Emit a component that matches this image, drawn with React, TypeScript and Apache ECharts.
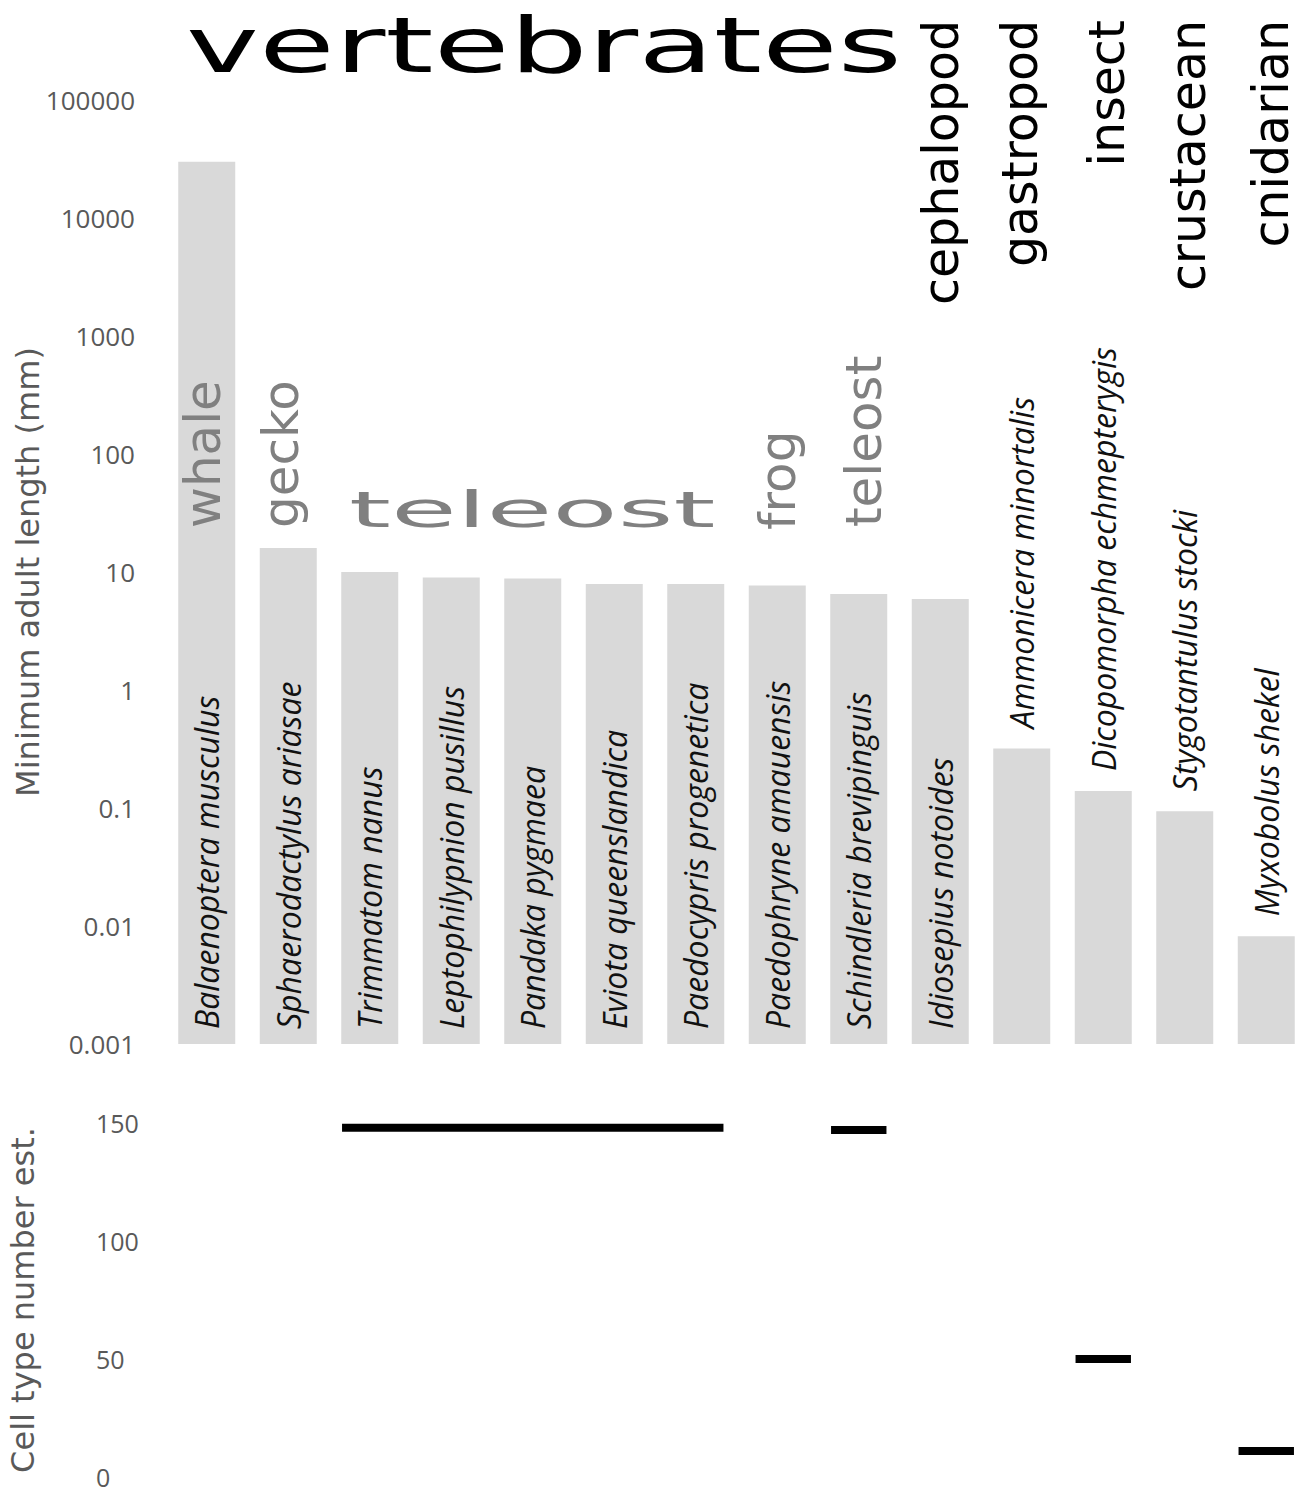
import React, { useEffect, useRef } from "react";
import * as echarts from "echarts";

const species = [
  "Balaenoptera musculus",
  "Sphaerodactylus ariasae",
  "Trimmatom nanus",
  "Leptophilypnion pusillus",
  "Pandaka pygmaea",
  "Eviota queenslandica",
  "Paedocypris progenetica",
  "Paedophryne amauensis",
  "Schindleria brevipinguis",
  "Idiosepius notoides",
  "Ammonicera minortalis",
  "Dicopomorpha echmepterygis",
  "Stygotantulus stocki",
  "Myxobolus shekel",
];
const minAdultLengthMm = [30000, 16, 10, 9, 8.8, 7.9, 7.9, 7.7, 6.5, 5.9, 0.32, 0.139, 0.094, 0.0082];
const labelAboveBar = [false, false, false, false, false, false, false, false, false, false, true, true, true, true];
const lengthTickLabels = ["0.001", "0.01", "0.1", "1", "10", "100", "1000", "10000", "100000"];
const cellTypeTickLabels = ["0", "50", "100", "150"];
const cellTypeFromIdx = [2, 8, 11, 13];
const cellTypeToIdx = [6, 8, 11, 13];
const cellTypeCount = [148, 147, 50, 11];
const grayGroupLabels = ["whale", "gecko", "frog", "teleost"];
const blackGroupLabels = ["cephalopod", "gastropod", "insect", "crustacean", "cnidarian"];

const GRID_LEFT = 166;
const GRID_WIDTH = 1141;

export default function App() {
  const ref = useRef<HTMLDivElement>(null);
  useEffect(() => {
    if (!ref.current) return;
    const chart = echarts.init(ref.current, null, { renderer: "svg" });

    const baseLabel = {
      show: true,
      rotate: 90,
      align: "left",
      verticalAlign: "middle",
      formatter: "{b}",
      fontSize: 32,
      fontStyle: "italic",
      fontFamily: "'Open Sans', 'DejaVu Sans', sans-serif",
      color: "#111",
    };
    const insideLabel = { ...baseLabel, position: "insideBottom", distance: 15 };
    const aboveLabel = { ...baseLabel, position: "top", distance: 20 };

    const grayPos = [
      [203, 528],
      [281, 528],
      [777.5, 530],
      [863.5, 527],
    ];
    const blackPos = [
      [941, 20],
      [1020, 20],
      [1107, 20],
      [1188, 20],
      [1271, 20],
    ];

    const graphic: any[] = [
      {
        type: "text",
        x: 186,
        y: 45,
        z: 100,
        scaleX: 1.6,
        style: {
          text: "vertebrates",
          fill: "#000",
          fontSize: 77,
          fontFamily: "'DejaVu Sans', sans-serif",
          align: "left",
          textAlign: "left",
          verticalAlign: "middle",
          textVerticalAlign: "middle",
        },
      },
      {
        type: "text",
        x: 349,
        y: 509.5,
        z: 100,
        scaleX: 2.14,
        style: {
          text: "teleost",
          fill: "#808080",
          fontSize: 50,
          fontFamily: "'DejaVu Sans', sans-serif",
          align: "left",
          textAlign: "left",
          verticalAlign: "middle",
          textVerticalAlign: "middle",
        },
      },
      ...grayGroupLabels.map((t, i) => ({
        type: "text",
        x: grayPos[i][0],
        y: grayPos[i][1],
        z: 100,
        rotation: Math.PI / 2,
        style: {
          text: t,
          fill: "#808080",
          fontSize: 50,
          fontFamily: "'DejaVu Sans', sans-serif",
          align: "left",
          textAlign: "left",
          verticalAlign: "middle",
          textVerticalAlign: "middle",
        },
      })),
      ...blackGroupLabels.map((t, i) => ({
        type: "text",
        x: blackPos[i][0],
        y: blackPos[i][1],
        z: 100,
        rotation: Math.PI / 2,
        style: {
          text: t,
          fill: "#000",
          fontSize: 49,
          fontFamily: "'DejaVu Sans', sans-serif",
          align: "right",
          textAlign: "right",
          verticalAlign: "middle",
          textVerticalAlign: "middle",
        },
      })),
    ];

    const option: any = {
      animation: false,
      backgroundColor: "#fff",
      grid: [
        { left: GRID_LEFT, width: GRID_WIDTH, top: 100, height: 944, outerBoundsMode: "none", containLabel: false },
        { left: GRID_LEFT, width: GRID_WIDTH, top: 1123, height: 354, outerBoundsMode: "none", containLabel: false },
      ],
      xAxis: [
        {
          type: "category",
          gridIndex: 0,
          data: species,
          axisLine: { show: false },
          axisTick: { show: false },
          axisLabel: { show: false },
        },
        {
          type: "category",
          gridIndex: 1,
          data: species,
          axisLine: { show: false },
          axisTick: { show: false },
          axisLabel: { show: false },
        },
      ],
      yAxis: [
        {
          type: "log",
          gridIndex: 0,
          logBase: 10,
          min: 0.001,
          max: 100000,
          startValue: 0.001,
          name: "Minimum adult length (mm)",
          nameLocation: "middle",
          nameRotate: 90,
          nameGap: 122,
          nameMoveOverlap: false,
          nameTextStyle: { fontSize: 32, color: "#595959", fontFamily: "'DejaVu Sans', sans-serif" },
          axisLine: { show: false },
          axisTick: { show: false },
          splitLine: { show: false },
          axisLabel: {
            margin: 31,
            fontSize: 26,
            color: "#595959",
            fontFamily: "'Open Sans', sans-serif",
            formatter: (v: number) => lengthTickLabels[Math.round(Math.log10(v)) + 3] ?? "",
          },
        },
        {
          type: "value",
          gridIndex: 1,
          min: 0,
          max: 150,
          interval: 50,
          name: "Cell type number est.",
          nameLocation: "middle",
          nameRotate: 90,
          nameGap: 127,
          nameMoveOverlap: false,
          nameTextStyle: { fontSize: 32, color: "#595959", fontFamily: "'DejaVu Sans', sans-serif" },
          axisLine: { show: false },
          axisTick: { show: false },
          splitLine: { show: false },
          axisLabel: {
            margin: 70,
            align: "left",
            fontSize: 25,
            lineHeight: 18,
            color: "#595959",
            fontFamily: "'Open Sans', sans-serif",
            formatter: (v: number) => cellTypeTickLabels[Math.round(v / 50)] ?? "",
          },
        },
      ],
      series: [
        {
          type: "bar",
          xAxisIndex: 0,
          yAxisIndex: 0,
          barWidth: 57,
          itemStyle: { color: "#d9d9d9" },
          data: minAdultLengthMm.map((v, i) => ({
            value: v,
            label: labelAboveBar[i] ? aboveLabel : insideLabel,
          })),
        },
        {
          type: "custom",
          xAxisIndex: 1,
          yAxisIndex: 1,
          encode: { x: [0, 1], y: 2 },
          data: cellTypeCount.map((c, i) => [cellTypeFromIdx[i], cellTypeToIdx[i], c]),
          renderItem: (params: any, api: any) => {
            const v = api.value(2);
            const a = api.coord([api.value(0), v]);
            const b = api.coord([api.value(1), v]);
            const band = api.size([1, 0])[0];
            const half = band * 0.34;
            return {
              type: "rect",
              shape: { x: a[0] - half, y: a[1] - 4, width: b[0] - a[0] + 2 * half, height: 8 },
              style: { fill: "#000" },
            };
          },
        },
      ],
      graphic,
    };

    chart.setOption(option);
    return () => chart.dispose();
  }, []);

  return (
    <div style={{ position: "absolute", left: 0, top: 0, width: 1303, height: 1491, overflow: "hidden" }}>
      <div ref={ref} style={{ width: 1320, height: 1491 }} />
    </div>
  );
}
